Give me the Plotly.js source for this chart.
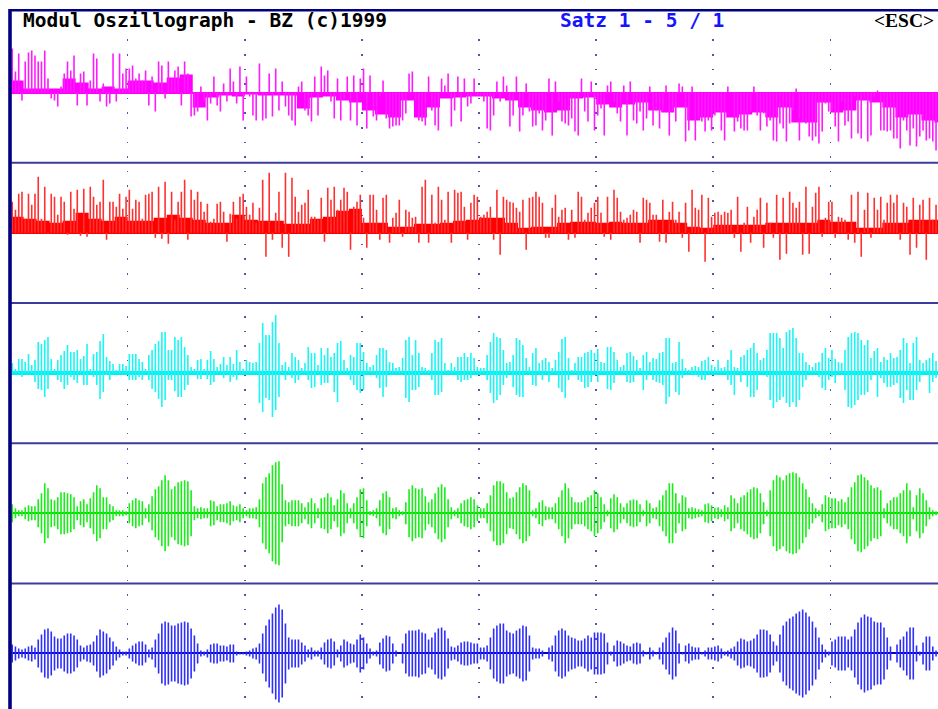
<!DOCTYPE html>
<html><head><meta charset="utf-8">
<script src="https://cdn.plot.ly/plotly-3.0.1.min.js"></script>
<style>html,body{margin:0;padding:0;background:#fff}#chart{width:938px;height:709px}</style>
</head><body><div id="chart"></div>
<script>
// ---- data (pixel-amplitude units, one value per sample) ----
const magentaVal = [
44,21,39,-8,31,40,42,37,31,31,42,14,-6,-8,-14,6,19,31,22,37,-13,19,21,-13,12,39,34,-9,9,-14,-11,39,-9,39,19,24,
24,27,14,19,12,22,-13,16,-19,31,27,-6,31,14,22,26,-13,31,19,-24,-23,-19,6,-9,-28,-11,16,-13,-19,9,-9,24,11,-11,26,-28,
16,-4,-23,-28,29,-28,-26,19,-24,24,-18,11,-14,-23,-28,-33,6,11,-18,-23,-29,16,-23,26,17,22,-9,-26,14,-28,-6,16,-28,17,-33,14,
24,-36,17,-24,-28,-4,12,-26,-36,-34,-33,-33,-28,-21,19,21,-8,-28,-29,-33,16,-18,-33,-38,14,7,19,-34,-18,16,-29,14,-14,-11,14,-3,
-3,-9,-36,-38,-23,11,-9,16,7,-34,-23,16,-39,-23,9,-19,-34,-33,-21,-38,-28,14,-43,11,-9,-29,-31,-33,-26,-39,-43,14,-19,-29,11,-38,
-23,-16,-43,7,11,-9,-21,-29,7,-43,11,-28,-31,-19,-38,-26,6,-33,-18,-36,-18,7,-43,-18,-29,9,6,-49,-38,6,-48,-26,-29,-39,-28,-38,
-23,-18,-38,-48,6,0,-39,-29,-36,-38,-38,-19,6,-23,-38,-21,-34,-28,-48,-49,-31,-36,-49,-31,-18,4,-48,-29,-31,-44,-48,-44,-51,-39,-11,-19,
-18,-34,-49,-9,-33,-29,-46,-4,-41,-46,-6,-49,-43,-4,2,-38,-38,-39,-38,-46,-46,-56,-28,-38,-53,-36,-54,-44,-38,-48,-46,-49,-58];
// coarse fill level near the baseline, one value per 4 samples
const magentaFill = [
12,4,4,4,14,10,4,6,4, 12,12,10,15,18,-15,-5,-3,-4, -2,-3,-3,-3,-16,-5,-4,-8,-10,
-18,-22,-25,-8,-25,-15,-6,-5,-4, -4,-6,-8,-15,-18,-20,-18,-6,-5, -12,-15,-12,-10,-18,-20,-15,-28,-25,
-20,-25,-22,-20,-25,-15,-30,-30,-10, -20,-18,-8,-10,-15,-25,-22,-28,-30];

const redVal = [
31,23,39,41,14,39,28,39,56,14,46,-1,39,36,18,36,31,-2,41,24,43,-3,44,-4,46,36,28,31,53,-7,31,31,26,39,24,36,
43,24,33,31,14,38,39,41,-5,46,-6,51,-11,41,13,31,41,53,-7,43,33,41,31,21,29,11,14,29,31,21,-9,19,31,14,36,39,
26,18,30,10,25,53,-24,60,-7,20,41,-15,60,-24,55,36,21,28,30,43,16,16,13,35,-9,45,33,46,23,33,45,41,-17,26,31,38,
15,-15,38,38,23,-7,35,38,-10,15,20,33,-4,23,21,15,16,-10,46,53,-10,38,10,46,33,13,41,-10,43,40,41,26,-7,30,38,36,
16,18,21,26,-7,43,-22,36,33,31,30,25,21,33,-17,35,36,41,36,30,-5,-5,25,38,16,23,25,-7,23,-5,41,36,13,20,25,30,
36,20,-4,36,-7,43,35,21,13,15,18,23,21,-10,35,33,30,18,18,-9,33,-10,21,31,13,21,-5,30,-19,43,25,23,38,-29,35,16,
20,21,18,21,20,23,-5,36,-19,10,26,-10,16,23,35,-15,30,10,-5,38,-27,35,-21,41,30,25,31,-22,46,-21,26,40,46,-4,15,31,
31,-5,16,15,13,-7,38,-10,41,-24,23,40,-5,35,23,36,13,30,38,30,38,-7,30,26,-22,35,-15,28,33,-27,35,13,28];
const redFill = [
16,14,12,10,12,20,14,12,16, 12,12,15,18,15,13,10,10,18, 13,12,12,9,9,14,16,22,24,
10,10,6,6,9,9,10,12,13, 15,15,10,5,6,6,10,11,11, 10,11,10,10,13,13,10,6,5,
8,8,8,8,10,10,10,10,13, 11,11,5,5,10,10,13,13,13];

const cyanUp = [
10,4,14,14,11,19,8,13,31,29,33,36,14,4,13,18,22,28,21,21,23,14,17,29,4,19,21,32,39,16,12,9,3,9,9,7,
19,19,19,14,11,4,18,23,29,32,41,41,23,23,36,33,36,26,18,6,4,13,14,4,13,22,14,6,9,16,8,16,9,23,11,4,
13,11,10,11,30,50,38,38,51,58,30,8,11,6,20,16,13,5,10,26,20,20,8,25,18,25,16,20,30,32,13,5,18,16,30,30,
21,10,6,8,18,25,25,23,11,10,5,6,15,33,36,18,33,20,6,5,3,20,33,31,35,10,3,10,6,16,16,20,16,20,15,6,
5,5,18,31,40,36,35,23,10,11,18,35,33,28,15,6,20,25,10,13,15,11,5,13,21,34,36,15,3,10,16,16,20,21,23,20,
24,11,10,26,26,21,13,6,8,20,21,17,13,5,18,21,11,15,14,20,21,35,35,10,11,31,14,5,3,6,7,6,12,13,16,8,
6,13,5,6,13,23,6,5,16,18,23,25,30,20,13,15,23,40,40,40,35,25,41,43,45,35,20,20,11,8,6,10,11,20,25,15,
23,14,11,10,23,36,40,41,40,33,28,33,15,22,25,11,16,13,20,15,16,23,35,30,10,30,36,13,10,13,15,20,12];
const cyanDown = [
1,0,0,4,0,0,0,9,16,17,24,16,0,0,7,9,16,12,4,7,10,0,12,12,0,4,12,26,19,2,7,0,0,0,0,0,
7,7,7,4,7,0,7,16,19,26,34,27,7,7,18,24,24,17,12,0,0,6,6,0,6,12,9,0,0,5,0,9,4,7,0,0,
0,0,0,0,30,39,25,27,44,37,24,0,7,0,5,10,7,0,0,7,15,14,0,12,10,10,0,19,29,0,0,0,7,12,17,20,
17,0,0,0,5,15,24,14,0,0,0,0,0,25,29,17,17,14,0,0,0,7,22,22,19,0,0,0,0,7,9,7,7,5,0,0,
0,0,7,20,30,27,22,12,5,0,14,22,24,24,0,0,12,13,0,7,0,9,0,0,15,19,25,7,0,0,7,9,15,14,9,0,
9,0,0,16,17,10,0,0,0,9,10,9,0,0,17,7,0,7,9,10,12,31,24,0,19,22,5,0,0,2,2,4,7,7,0,0,
0,0,0,0,7,12,22,0,9,0,14,24,24,17,0,0,4,27,35,29,27,24,30,34,29,34,27,14,7,0,0,0,4,15,17,7,
4,10,0,0,17,34,35,32,27,22,22,19,7,0,24,5,10,14,14,12,10,25,30,17,27,27,17,9,0,0,20,9,5];

const greenAmp = [
9,5,3,3,6,8,7,7,14,20,30,25,14,13,16,21,21,20,19,16,7,12,14,9,15,21,28,25,16,16,9,7,3,3,3,2,
10,13,15,13,12,5,9,17,24,27,33,38,33,24,27,31,32,33,32,23,7,5,6,5,5,13,12,7,9,9,10,12,8,7,9,5,
3,5,5,6,14,30,36,40,48,51,52,29,13,11,13,13,13,10,6,11,15,10,5,15,16,20,16,8,14,23,20,10,5,10,16,24,
25,13,2,3,5,13,20,22,16,5,6,3,2,11,24,28,25,24,25,17,11,14,20,26,29,26,14,6,3,5,10,13,14,16,14,8,
5,5,10,18,28,32,32,30,21,15,16,21,26,30,28,23,3,5,11,13,7,6,6,10,16,23,30,25,16,11,11,11,13,16,18,23,
20,16,9,3,15,19,16,10,6,10,13,14,13,9,3,13,10,5,6,13,18,23,30,30,20,10,18,16,5,6,5,4,3,9,10,8,
5,6,4,8,6,18,15,10,16,18,21,24,26,25,20,11,3,23,33,38,36,33,38,40,41,40,36,30,24,16,10,5,3,9,18,16,
15,15,12,14,11,16,26,31,38,39,36,33,28,25,26,23,5,10,13,16,16,20,23,30,23,6,18,25,20,13,6,3,2];

const blueAmp = [
9,7,5,4,5,7,8,6,14,19,24,25,22,17,15,15,18,20,20,18,14,8,6,8,9,12,18,24,22,20,16,12,7,4,2,2,
5,8,10,12,12,9,4,6,14,20,30,32,31,28,28,30,31,32,31,25,18,10,3,2,4,9,10,10,8,8,7,9,9,2,1,1,
2,3,5,6,10,20,28,34,40,46,49,44,30,16,14,14,14,11,8,4,6,3,3,6,11,14,15,12,4,8,14,12,10,9,14,19,
16,10,5,2,3,11,15,18,17,10,3,0,10,20,23,23,23,24,21,20,14,16,21,25,26,23,15,7,6,8,11,12,12,11,10,10,
6,6,8,16,25,28,30,30,23,21,20,23,25,28,27,18,6,5,5,3,0,6,8,18,23,25,23,18,16,15,13,13,15,18,16,21,
21,21,20,11,2,8,13,12,10,8,7,10,11,10,3,1,6,3,1,6,11,16,21,26,23,10,1,8,10,7,6,6,1,3,6,6,
7,8,5,2,3,5,7,12,15,14,12,13,15,19,24,24,23,19,12,8,19,28,32,35,37,40,42,44,41,37,32,26,16,9,4,2,
12,14,17,17,17,14,17,24,31,36,39,37,36,32,31,31,26,16,7,0,9,14,17,22,26,26,8,2,11,17,17,7,3];

const headerLeft = 'Modul Oszillograph - BZ (c)1999';
const headerMid = 'Satz 1 - 5 / 1';
const headerRight = '&lt;ESC&gt;';

// ---- layout geometry ----
const W = 938, H = 709;
const panelTop = [32, 162.8, 303.0, 443.2, 583.4];
const baseline = [92.6, 232.8, 373.0, 513.2, 653.4];
const py = p => 1 - p / H;
const px = p => p / W;

function ids(k) { return k === 0 ? ['x', 'y'] : ['x' + (k + 1), 'y' + (k + 1)]; }

function spikeTrace(k, lo, hi, color, width) {
  const x = [], y = [];
  for (let i = 0; i < hi.length; i++) {
    x.push(i + 0.5, i + 0.5, null);
    y.push(lo[i], hi[i], null);
  }
  const [xa, ya] = ids(k);
  return {type: 'scatter', mode: 'lines', x, y, xaxis: xa, yaxis: ya,
          line: {color, width}, hoverinfo: 'skip', connectgaps: false};
}
function fillTrace(k, vals, color) {
  const x = vals.map((_, g) => g * 4); x.push(vals.length * 4);
  const y = vals.slice(); y.push(vals[vals.length - 1]);
  const [xa, ya] = ids(k);
  return {type: 'scatter', mode: 'lines', x, y, xaxis: xa, yaxis: ya,
          line: {shape: 'hv', width: 0, color}, fill: 'tozeroy', fillcolor: color, hoverinfo: 'skip'};
}
const zeros = n => new Array(n).fill(0);
const neg = a => a.map(v => -v);

const traces = [
  fillTrace(0, magentaFill, '#ff00ff'),
  spikeTrace(0, zeros(magentaVal.length), magentaVal, '#ff1aff', 1.6),
  fillTrace(1, redFill, '#ff0000'),
  spikeTrace(1, zeros(redVal.length), redVal, '#ff3030', 1.6),
  spikeTrace(2, neg(cyanDown), cyanUp, '#1af5f5', 1.6),
  spikeTrace(3, neg(greenAmp), greenAmp, '#16ee16', 1.6),
  spikeTrace(4, neg(blueAmp), blueAmp, '#2e2eff', 1.6)
];

const zeroCol = ['#ff00ff', '#ff0000', '#00f0f0', '#00e000', '#0000c8'];
const zeroW = [2, 2.5, 3.5, 2, 2];
const layout = {
  width: W, height: H, margin: {l: 0, r: 0, t: 0, b: 0},
  paper_bgcolor: '#ffffff', plot_bgcolor: 'rgba(0,0,0,0)', showlegend: false,
  shapes: [], annotations: []
};
const dotStart = 24.7, period = 14.6, dotLen = 1.6;
for (let k = 0; k < 5; k++) {
  const top = panelTop[k];
  const bottom = Math.min(H, k < 4 ? panelTop[k] + 140.2 : H);
  const base = baseline[k];
  let p = ((dotStart - top) % period + period) % period;
  p = Math.min(p, period - dotLen);
  const dash = '0px,' + p.toFixed(2) + 'px,' + dotLen + 'px,' + (period - dotLen - p).toFixed(2) + 'px';
  const [xa, ya] = ids(k);
  const xk = k === 0 ? 'xaxis' : 'xaxis' + (k + 1);
  const yk = k === 0 ? 'yaxis' : 'yaxis' + (k + 1);
  layout[xk] = {domain: [px(10), 1], range: [-0.18, 285.1], anchor: ya,
    showgrid: true, gridcolor: '#5454a8', gridwidth: 1.6, griddash: dash,
    tickmode: 'linear', tick0: 0, dtick: 36, showticklabels: false, ticks: '',
    zeroline: false, showline: false, fixedrange: true};
  layout[yk] = {domain: [py(bottom), py(top)], range: [-(bottom - base), base - top], anchor: xa,
    showgrid: false, showticklabels: false, ticks: '', zeroline: true,
    zerolinecolor: zeroCol[k], zerolinewidth: zeroW[k], showline: false, fixedrange: true};
}
// separators between panels
const sepY = [162.8, 303.0, 443.2, 583.4];
sepY.forEach(s => layout.shapes.push({type: 'line', xref: 'paper', yref: 'paper',
  x0: px(10), x1: 1, y0: py(s), y1: py(s), line: {color: '#3c3c9e', width: 2}}));
// outer frame
layout.shapes.push({type: 'line', xref: 'paper', yref: 'paper', x0: px(9), x1: 1, y0: py(10.2), y1: py(10.2),
  line: {color: '#000080', width: 2.4}});
layout.shapes.push({type: 'line', xref: 'paper', yref: 'paper', x0: px(10), x1: px(10), y0: py(9), y1: 0,
  line: {color: '#000080', width: 3.6}});

const hFont = {family: 'DejaVu Sans Mono, monospace', size: 19.5, color: '#000000'};
layout.annotations.push({text: '<b>' + headerLeft + '</b>', xref: 'paper', yref: 'paper',
  x: px(20.5), y: py(21), xanchor: 'left', yanchor: 'middle', showarrow: false, font: hFont});
layout.annotations.push({text: '<b>' + headerMid + '</b>', xref: 'paper', yref: 'paper',
  x: px(558), y: py(21), xanchor: 'left', yanchor: 'middle', showarrow: false,
  font: Object.assign({}, hFont, {color: '#1414ff'})});
layout.annotations.push({text: '<b>' + headerRight + '</b>', xref: 'paper', yref: 'paper',
  x: px(935), y: py(21), xanchor: 'right', yanchor: 'middle', showarrow: false, borderpad: 0,
  font: {family: 'Liberation Serif, serif', size: 19.5, color: '#000000'}});

Plotly.newPlot('chart', traces, layout, {displayModeBar: false, staticPlot: true});
</script>
</body></html>
